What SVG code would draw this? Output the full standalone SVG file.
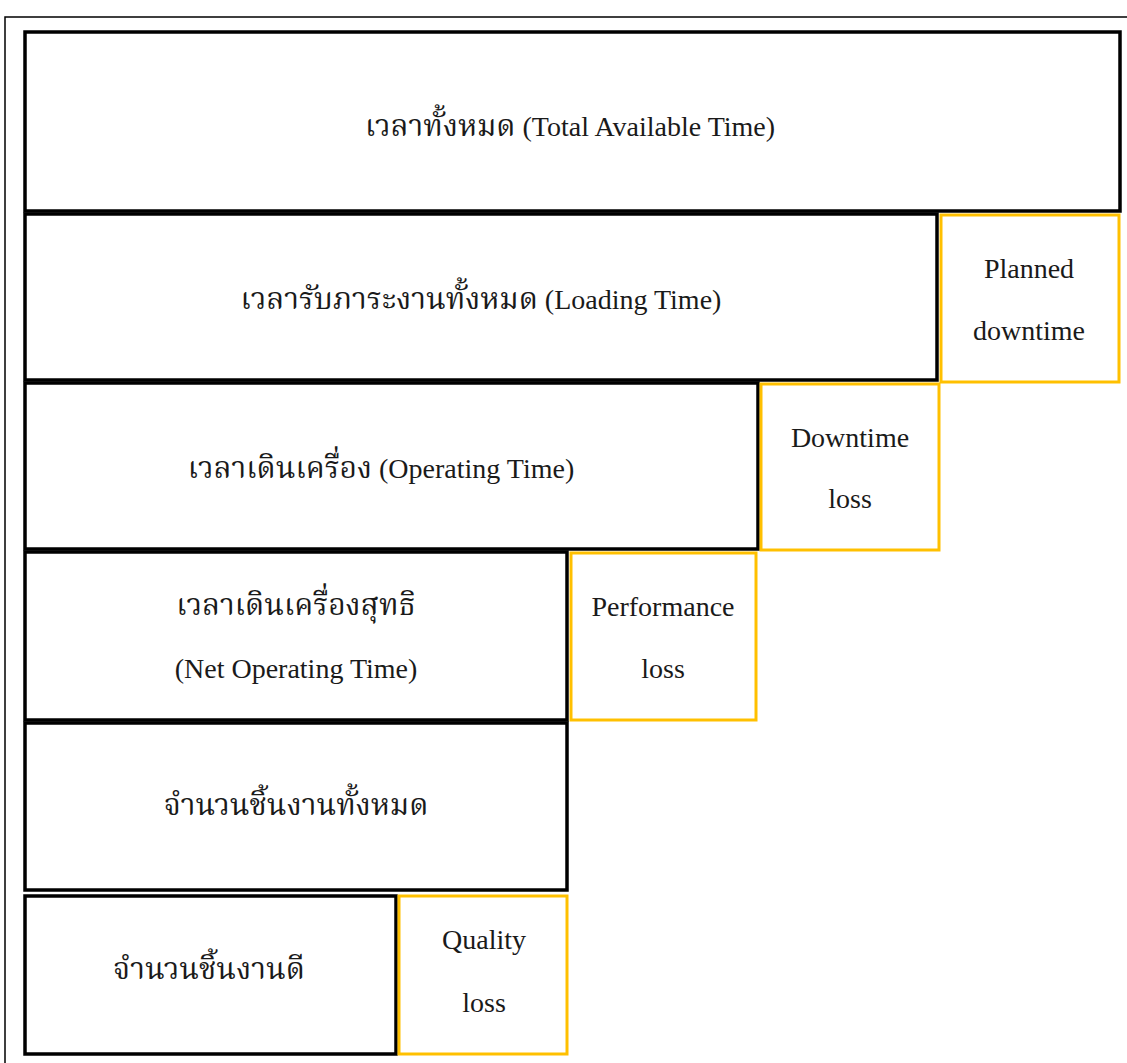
<svg xmlns="http://www.w3.org/2000/svg" width="1127" height="1063" viewBox="0 0 1127 1063">
<style>
.frame{fill:none;stroke:#000;stroke-width:1.5}
.blk{fill:#fff;stroke:#000;stroke-width:3.5}
.yel{fill:#fff;stroke:#FFC000;stroke-width:3}
text{font-family:"Liberation Serif","Noto Serif Thai","Noto Sans Thai",serif;font-size:28px;fill:#1a1a1a;text-anchor:middle}
.th{font-size:30px}
</style>
<rect width="1127" height="1063" fill="#fff"/>
<rect class="frame" x="5" y="17" width="1135" height="1060"/>
<g id="total-time"><rect class="blk" x="25" y="32" width="1095" height="179"/><text x="570" y="136"><tspan class="th">เวลาทั้งหมด</tspan> (Total Available Time)</text></g>
<g id="loading-time"><rect class="blk" x="25" y="214" width="912" height="166"/><text x="481" y="309"><tspan class="th">เวลารับภาระงานทั้งหมด</tspan> (Loading Time)</text></g>
<g id="planned-downtime"><rect class="yel" x="941" y="215" width="178" height="167"/><text x="1029" y="278">Planned</text><text x="1029" y="340">downtime</text></g>
<g id="operating-time"><rect class="blk" x="25" y="383" width="733" height="166"/><text x="381" y="478"><tspan class="th">เวลาเดินเครื่อง</tspan> (Operating Time)</text></g>
<g id="downtime-loss"><rect class="yel" x="761" y="384" width="178" height="166"/><text x="850" y="447">Downtime</text><text x="850" y="508">loss</text></g>
<g id="net-operating-time"><rect class="blk" x="25" y="552" width="542" height="168"/><text class="th" x="296" y="615">เวลาเดินเครื่องสุทธิ</text><text x="296" y="678">(Net Operating Time)</text></g>
<g id="performance-loss"><rect class="yel" x="571" y="553" width="185" height="167"/><text x="663" y="616">Performance</text><text x="663" y="678">loss</text></g>
<g id="total-pieces"><rect class="blk" x="25" y="723" width="542" height="167"/><text class="th" x="296" y="815">จำนวนชิ้นงานทั้งหมด</text></g>
<g id="good-pieces"><rect class="blk" x="25" y="896" width="371" height="158"/><text class="th" x="209" y="979">จำนวนชิ้นงานดี</text></g>
<g id="quality-loss"><rect class="yel" x="399" y="896" width="168" height="158"/><text x="484" y="949">Quality</text><text x="484" y="1012">loss</text></g>
<g id="connectors"/>
</svg>
